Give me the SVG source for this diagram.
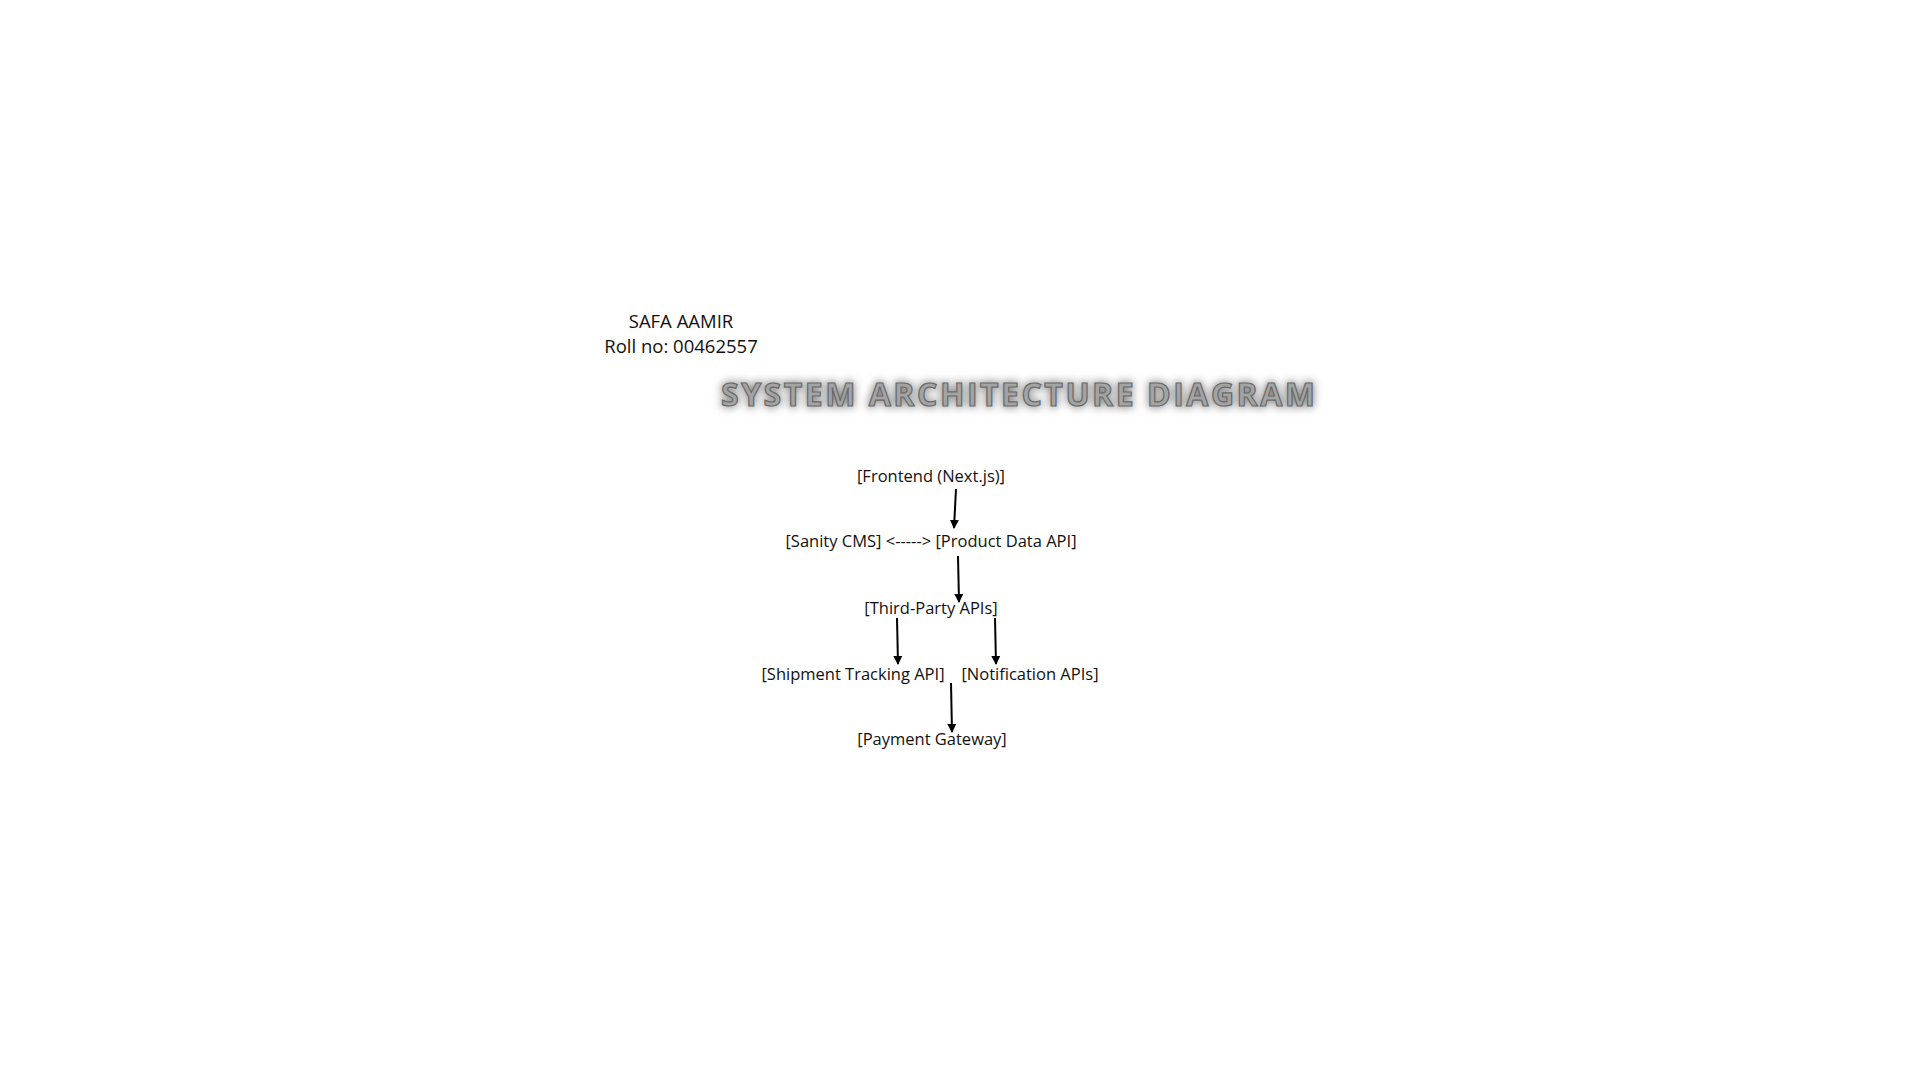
<svg xmlns="http://www.w3.org/2000/svg" width="1920" height="1080" viewBox="0 0 1920 1080">
<defs>
<style>
.t{font-family:"Open Sans","Liberation Sans",sans-serif;font-size:16.5px;fill:#111;text-anchor:middle}
.h{font-family:"Open Sans","Liberation Sans",sans-serif;font-size:18.5px;fill:#111;text-anchor:middle}
.title{font-family:"Open Sans","Liberation Sans",sans-serif;font-weight:700;font-size:32px;text-anchor:middle}
.c{stroke:#000;stroke-width:2;fill:none;marker-end:url(#ah)}
</style>
<marker id="ah" viewBox="0 0 10 10" refX="9" refY="5" markerWidth="4.5" markerHeight="4.5" orient="auto-start-reverse" markerUnits="strokeWidth">
<path d="M0,0 L10,5 L0,10 z" fill="#000"/>
</marker>
<filter id="glow" x="-10%" y="-60%" width="120%" height="220%">
<feGaussianBlur stdDeviation="4.5"/>
</filter>
</defs>
<rect width="1920" height="1080" fill="#fff"/>
<g id="author">
<text class="h" x="681" y="328">SAFA AAMIR</text>
<text class="h" x="681" y="353">Roll no: 00462557</text>
</g>
<g id="title">
<text class="title" x="1018" y="406" textLength="594" lengthAdjust="spacing" fill="#8a8a8a" stroke="#8a8a8a" stroke-width="3" filter="url(#glow)">SYSTEM ARCHITECTURE DIAGRAM</text>
<text class="title" x="1018" y="406" textLength="594" lengthAdjust="spacing" fill="#a4a4a4" stroke="#6a6a6a" stroke-width="1.2">SYSTEM ARCHITECTURE DIAGRAM</text>
</g>
<g id="frontend"><text class="t" x="931" y="482">[Frontend (Next.js)]</text></g>
<g id="sanity-product"><text class="t" x="931" y="547">[Sanity CMS] &lt;-----&gt; [Product Data API]</text></g>
<g id="third-party"><text class="t" x="931" y="614">[Third-Party APIs]</text></g>
<g id="shipment"><text class="t" x="853" y="680">[Shipment Tracking API]</text></g>
<g id="notification"><text class="t" x="1030" y="680">[Notification APIs]</text></g>
<g id="payment"><text class="t" x="932" y="745">[Payment Gateway]</text></g>
<g id="connectors">
<line class="c" x1="956" y1="489" x2="954" y2="528"/>
<line class="c" x1="958" y1="556" x2="959" y2="602"/>
<line class="c" x1="897" y1="618" x2="898" y2="664"/>
<line class="c" x1="995" y1="618" x2="996" y2="664"/>
<line class="c" x1="951" y1="683" x2="952" y2="732"/>
</g>
</svg>
